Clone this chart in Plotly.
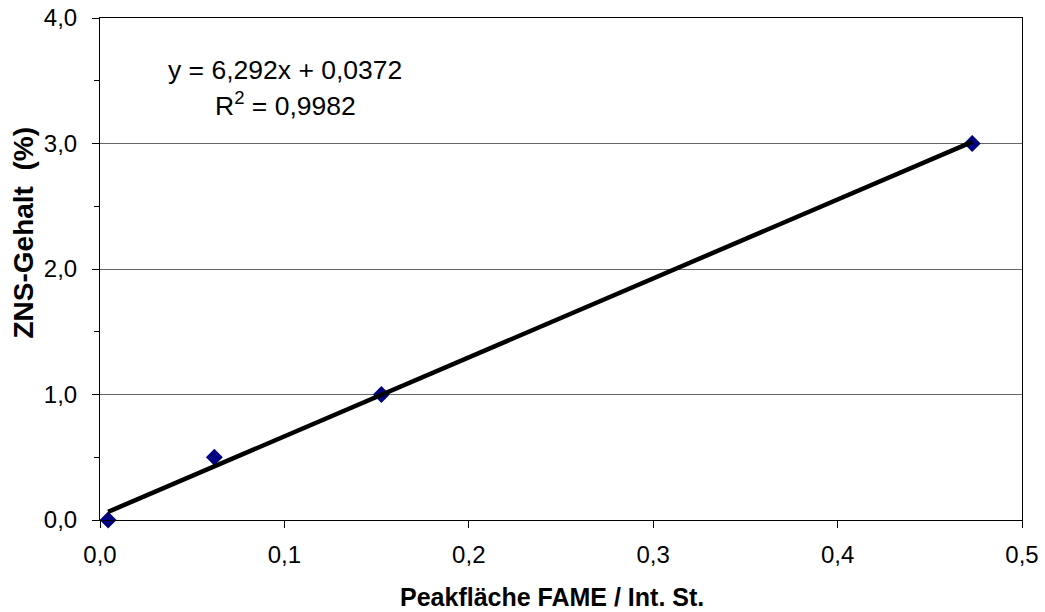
import plotly.graph_objects as go

# Data
x_vals = [0.0044, 0.062, 0.1526, 0.473]
y_vals = [0.0, 0.5, 1.0, 3.0]
slope = 6.292
intercept = 0.0372
eq_text = "y = 6,292x + 0,0372"
r2_text = "R<sup>2</sup> = 0,9982"
x_title = "Peakfläche FAME / Int. St."
y_title = "ZNS-Gehalt\u00a0\u00a0(%)"
x_ticks = [0.0, 0.1, 0.2, 0.3, 0.4, 0.5]
x_ticklabels = ["0,0", "0,1", "0,2", "0,3", "0,4", "0,5"]
y_ticks = [0.0, 1.0, 2.0, 3.0, 4.0]
y_ticklabels = ["0,0", "1,0", "2,0", "3,0", "4,0"]

FONT = "Liberation Sans, Arial, sans-serif"

trend_x = [min(x_vals), max(x_vals)]
trend_y = [slope * v + intercept for v in trend_x]

fig = go.Figure()
fig.add_trace(go.Scatter(
    x=x_vals, y=y_vals, mode="markers",
    marker=dict(symbol="diamond", size=13, color="#000080",
                line=dict(width=0)),
    showlegend=False, cliponaxis=False))
fig.add_trace(go.Scatter(
    x=trend_x, y=trend_y, mode="lines",
    line=dict(color="black", width=4.5),
    showlegend=False))

fig.update_layout(
    width=1045, height=612,
    margin=dict(l=100, r=23, t=18, b=92, autoexpand=False),
    paper_bgcolor="white", plot_bgcolor="white",
    font=dict(family=FONT, size=24, color="black"),
    showlegend=False,
)

fig.update_xaxes(
    range=[0, 0.5], tickmode="array", tickvals=x_ticks, ticktext=x_ticklabels,
    ticks="outside", ticklen=7, tickcolor="black", tickwidth=1,
    showline=True, linecolor="black", linewidth=1, mirror=True,
    showgrid=False, zeroline=False, automargin=False,
    tickfont=dict(family=FONT, size=24, color="black"),
    ticklabelstandoff=6,
)
fig.update_yaxes(
    range=[0, 4], tickmode="array", tickvals=y_ticks, ticktext=y_ticklabels,
    ticks="outside", ticklen=7, tickcolor="black", tickwidth=1,
    minor=dict(dtick=0.5, ticks="outside", ticklen=5, tickcolor="black",
               showgrid=False),
    showline=True, linecolor="black", linewidth=1, mirror=True,
    showgrid=True, gridcolor="#666666", gridwidth=1, zeroline=False,
    automargin=False,
    tickfont=dict(family=FONT, size=24, color="black"),
    ticklabelstandoff=10,
)

fig.add_annotation(text=eq_text, xref="paper", yref="paper",
                   x=(285 - 99.5) / 922.5, y=(520 - 70) / 502,
                   xanchor="center", yanchor="middle", showarrow=False,
                   font=dict(family=FONT, size=26.5, color="black"))
fig.add_annotation(text=r2_text, xref="paper", yref="paper",
                   x=(285 - 99.5) / 922.5, y=(520 - 104) / 502,
                   xanchor="center", yanchor="middle", showarrow=False,
                   font=dict(family=FONT, size=26.5, color="black"))
fig.add_annotation(text="<b>" + x_title + "</b>", xref="paper", yref="paper",
                   x=(552 - 99.5) / 922.5, y=-(597 - 520) / 502,
                   xanchor="center", yanchor="middle", showarrow=False,
                   font=dict(family=FONT, size=25, color="black"))
fig.add_annotation(text="<b>" + y_title + "</b>", xref="paper", yref="paper",
                   x=(23 - 99.5) / 922.5, y=(520 - 233) / 502,
                   xanchor="center", yanchor="middle", showarrow=False,
                   textangle=-90,
                   font=dict(family=FONT, size=28, color="black"))

fig.write_html(
    "out.html",
    config={"displayModeBar": False},
    post_script="document.body.style.margin='0';document.body.style.overflow='hidden';",
)
